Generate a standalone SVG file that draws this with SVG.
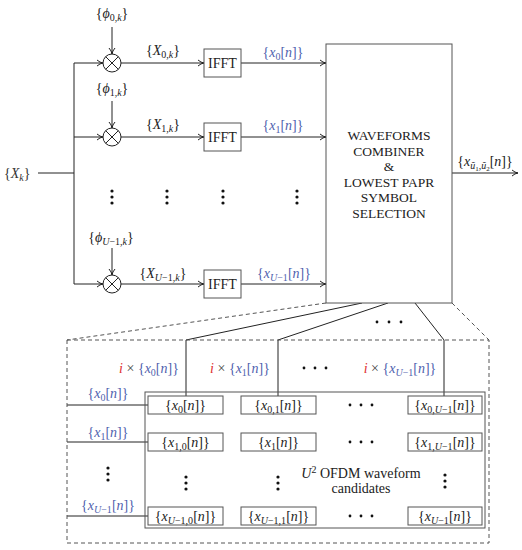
<svg xmlns="http://www.w3.org/2000/svg" width="522" height="550" viewBox="0 0 522 550">
<defs>
<style>
.m{font-family:"Liberation Serif",serif;font-size:14px;fill:#333}
.t{font-family:"Liberation Serif",serif;font-size:14px;fill:#222;text-anchor:middle}
.c{font-size:13.5px}
.it{font-style:italic}
.sb{font-size:10px}
.bl{fill:#4f5fae}
.rd{fill:#e03030}
.ln{stroke:#222;stroke-width:1;fill:none}
.bx{stroke:#555;stroke-width:1;fill:#fff}
.ds{stroke:#555;stroke-width:1;fill:none;stroke-dasharray:4,3}
.dot{fill:#111}
</style>
<marker id="ar" viewBox="0 0 8 8" refX="7" refY="4" markerWidth="8" markerHeight="8" orient="auto" markerUnits="userSpaceOnUse">
<path d="M1,1 Q4,3.6 7,4 Q4,4.4 1,7" fill="none" stroke="#222" stroke-width="1"/>
</marker>
</defs>
<rect width="522" height="550" fill="#fff"/>

<g id="connectors">
<line class="ln" x1="38" y1="173" x2="74" y2="173"/>
<line class="ln" x1="74" y1="63" x2="74" y2="284"/>
<line class="ln" x1="74" y1="63" x2="103" y2="63" marker-end="url(#ar)"/>
<line class="ln" x1="74" y1="137" x2="103" y2="137" marker-end="url(#ar)"/>
<line class="ln" x1="74" y1="284" x2="103" y2="284" marker-end="url(#ar)"/>
<line class="ln" x1="112" y1="27" x2="112" y2="54" marker-end="url(#ar)"/>
<line class="ln" x1="112" y1="101" x2="112" y2="128" marker-end="url(#ar)"/>
<line class="ln" x1="112" y1="248" x2="112" y2="275" marker-end="url(#ar)"/>
<line class="ln" x1="121" y1="63" x2="204" y2="63" marker-end="url(#ar)"/>
<line class="ln" x1="121" y1="137" x2="204" y2="137" marker-end="url(#ar)"/>
<line class="ln" x1="121" y1="284" x2="204" y2="284" marker-end="url(#ar)"/>
<line class="ln" x1="241" y1="63" x2="326" y2="63" marker-end="url(#ar)"/>
<line class="ln" x1="241" y1="137" x2="326" y2="137" marker-end="url(#ar)"/>
<line class="ln" x1="241" y1="284" x2="326" y2="284" marker-end="url(#ar)"/>
<line class="ln" x1="452" y1="173" x2="518" y2="173" marker-end="url(#ar)"/>
<line class="ds" x1="326" y1="303" x2="67" y2="340"/>
<line class="ds" x1="452" y1="303" x2="489" y2="340"/>
<polyline class="ln" points="362,303 186,340 186,396"/>
<polyline class="ln" points="388,303 278,340 278,396"/>
<polyline class="ln" points="415,303 444,340 444,396"/>
<line class="ln" x1="67" y1="405" x2="148" y2="405"/>
<line class="ln" x1="67" y1="442" x2="148" y2="442"/>
<line class="ln" x1="67" y1="516" x2="148" y2="516"/>
</g>

<g id="input-label">
<text class="m" x="4" y="178">{<tspan class="it">X</tspan><tspan class="sb it" dy="3">k</tspan><tspan dy="-3">}</tspan></text>
</g>

<g id="mult0">
<circle class="bx" cx="112" cy="63" r="9" style="stroke:#222"/>
<path class="ln" d="M105.6,56.6 L118.4,69.4 M118.4,56.6 L105.6,69.4"/>
<text class="t" x="112" y="18">{<tspan class="it">ϕ</tspan><tspan class="sb" dy="3">0,<tspan class="it">k</tspan></tspan><tspan dy="-3">}</tspan></text>
</g>
<g id="mult1">
<circle class="bx" cx="112" cy="137" r="9" style="stroke:#222"/>
<path class="ln" d="M105.6,130.6 L118.4,143.4 M118.4,130.6 L105.6,143.4"/>
<text class="t" x="112" y="93">{<tspan class="it">ϕ</tspan><tspan class="sb" dy="3">1,<tspan class="it">k</tspan></tspan><tspan dy="-3">}</tspan></text>
</g>
<g id="multU">
<circle class="bx" cx="112" cy="284" r="9" style="stroke:#222"/>
<path class="ln" d="M105.6,277.6 L118.4,290.4 M118.4,277.6 L105.6,290.4"/>
<text class="t" x="111" y="242">{<tspan class="it">ϕ</tspan><tspan class="sb" dy="3"><tspan class="it">U</tspan>−1,<tspan class="it">k</tspan></tspan><tspan dy="-3">}</tspan></text>
</g>

<g id="labels-X">
<text class="t" x="163" y="55">{<tspan class="it">X</tspan><tspan class="sb" dy="3">0,<tspan class="it">k</tspan></tspan><tspan dy="-3">}</tspan></text>
<text class="t" x="163" y="129">{<tspan class="it">X</tspan><tspan class="sb" dy="3">1,<tspan class="it">k</tspan></tspan><tspan dy="-3">}</tspan></text>
<text class="t" x="163" y="278">{<tspan class="it">X</tspan><tspan class="sb" dy="3"><tspan class="it">U</tspan>−1,<tspan class="it">k</tspan></tspan><tspan dy="-3">}</tspan></text>
</g>

<g id="ifft0"><rect class="bx" x="204" y="49" width="37" height="28"/><text class="t" x="222.5" y="68">IFFT</text></g>
<g id="ifft1"><rect class="bx" x="204" y="123" width="37" height="28"/><text class="t" x="222.5" y="142">IFFT</text></g>
<g id="ifftU"><rect class="bx" x="204" y="270" width="37" height="28"/><text class="t" x="222.5" y="289">IFFT</text></g>

<g id="labels-x">
<text class="t bl" x="283" y="57">{<tspan class="it">x</tspan><tspan class="sb" dy="3">0</tspan><tspan dy="-3">[</tspan><tspan class="it">n</tspan>]}</text>
<text class="t bl" x="283" y="130">{<tspan class="it">x</tspan><tspan class="sb" dy="3">1</tspan><tspan dy="-3">[</tspan><tspan class="it">n</tspan>]}</text>
<text class="t bl" x="284" y="278">{<tspan class="it">x</tspan><tspan class="sb" dy="3"><tspan class="it">U</tspan>−1</tspan><tspan dy="-3">[</tspan><tspan class="it">n</tspan>]}</text>
</g>

<g id="vdots-top">
<circle class="dot" cx="112" cy="191" r="1.6"/><circle class="dot" cx="112" cy="197" r="1.6"/><circle class="dot" cx="112" cy="203" r="1.6"/>
<circle class="dot" cx="167" cy="191" r="1.6"/><circle class="dot" cx="167" cy="197" r="1.6"/><circle class="dot" cx="167" cy="203" r="1.6"/>
<circle class="dot" cx="223" cy="191" r="1.6"/><circle class="dot" cx="223" cy="197" r="1.6"/><circle class="dot" cx="223" cy="203" r="1.6"/>
<circle class="dot" cx="297" cy="191" r="1.6"/><circle class="dot" cx="297" cy="197" r="1.6"/><circle class="dot" cx="297" cy="203" r="1.6"/>
</g>

<g id="combiner">
<rect class="bx" x="326" y="44" width="126" height="259"/>
<text class="t c" x="389" y="140">WAVEFORMS</text>
<text class="t c" x="389" y="156">COMBINER</text>
<text class="t c" x="389" y="171">&amp;</text>
<text class="t c" x="389" y="187">LOWEST PAPR</text>
<text class="t c" x="389" y="202">SYMBOL</text>
<text class="t c" x="389" y="218">SELECTION</text>
</g>

<g id="output-label">
<text class="t" x="485" y="166">{<tspan class="it">x</tspan><tspan class="sb" dy="3"><tspan class="it">ũ</tspan><tspan font-size="7" dy="2">1</tspan><tspan dy="-2">,</tspan><tspan class="it">ũ</tspan><tspan font-size="7" dy="2">2</tspan></tspan><tspan dy="-5">[</tspan><tspan class="it">n</tspan>]}</text>
</g>

<g id="hdots-top">
<circle class="dot" cx="377" cy="322" r="1.4"/><circle class="dot" cx="389" cy="322" r="1.4"/><circle class="dot" cx="401" cy="322" r="1.4"/>
</g>

<g id="detail-box">
<rect class="ds" x="67" y="340" width="422" height="203"/>
</g>

<g id="mult-labels">
<text class="t bl" x="149" y="373"><tspan class="rd it">i</tspan><tspan fill="#444"> × </tspan>{<tspan class="it">x</tspan><tspan class="sb" dy="3">0</tspan><tspan dy="-3">[</tspan><tspan class="it">n</tspan>]}</text>
<text class="t bl" x="240" y="373"><tspan class="rd it">i</tspan><tspan fill="#444"> × </tspan>{<tspan class="it">x</tspan><tspan class="sb" dy="3">1</tspan><tspan dy="-3">[</tspan><tspan class="it">n</tspan>]}</text>
<circle class="dot" cx="304" cy="368" r="1.4"/><circle class="dot" cx="315" cy="368" r="1.4"/><circle class="dot" cx="326" cy="368" r="1.4"/>
<text class="t bl" x="400" y="373"><tspan class="rd it">i</tspan><tspan fill="#444"> × </tspan>{<tspan class="it">x</tspan><tspan class="sb" dy="3"><tspan class="it">U</tspan>−1</tspan><tspan dy="-3">[</tspan><tspan class="it">n</tspan>]}</text>
</g>

<g id="candidates-box">
<rect class="bx" x="145" y="392" width="340" height="136" style="fill:none"/>
<text class="t" x="361" y="478"><tspan class="it">U</tspan><tspan class="sb" dy="-5">2</tspan><tspan dy="5"> OFDM waveform</tspan></text>
<text class="t" x="361" y="493">candidates</text>
</g>

<g id="row-labels">
<text class="t bl" x="108" y="398">{<tspan class="it">x</tspan><tspan class="sb" dy="3">0</tspan><tspan dy="-3">[</tspan><tspan class="it">n</tspan>]}</text>
<text class="t bl" x="108" y="437">{<tspan class="it">x</tspan><tspan class="sb" dy="3">1</tspan><tspan dy="-3">[</tspan><tspan class="it">n</tspan>]}</text>
<text class="t bl" x="108" y="510">{<tspan class="it">x</tspan><tspan class="sb" dy="3"><tspan class="it">U</tspan>−1</tspan><tspan dy="-3">[</tspan><tspan class="it">n</tspan>]}</text>
<circle class="dot" cx="108" cy="468" r="1.6"/><circle class="dot" cx="108" cy="474" r="1.6"/><circle class="dot" cx="108" cy="480" r="1.6"/>
</g>

<g id="cell-0-0"><rect class="bx" x="148" y="396" width="75" height="18"/><text class="t" x="185.5" y="409.5">{<tspan class="it">x</tspan><tspan class="sb" dy="3">0</tspan><tspan dy="-3">[</tspan><tspan class="it">n</tspan>]}</text></g>
<g id="cell-0-1"><rect class="bx" x="241" y="396" width="75" height="18"/><text class="t" x="278.5" y="409.5">{<tspan class="it">x</tspan><tspan class="sb" dy="3">0,1</tspan><tspan dy="-3">[</tspan><tspan class="it">n</tspan>]}</text></g>
<g id="cell-0-U"><rect class="bx" x="408" y="396" width="74" height="18"/><text class="t" x="445" y="409.5">{<tspan class="it">x</tspan><tspan class="sb" dy="3">0,<tspan class="it">U</tspan>−1</tspan><tspan dy="-3">[</tspan><tspan class="it">n</tspan>]}</text></g>

<g id="cell-1-0"><rect class="bx" x="148" y="433" width="75" height="18"/><text class="t" x="185.5" y="446.5">{<tspan class="it">x</tspan><tspan class="sb" dy="3">1,0</tspan><tspan dy="-3">[</tspan><tspan class="it">n</tspan>]}</text></g>
<g id="cell-1-1"><rect class="bx" x="241" y="433" width="75" height="18"/><text class="t" x="278.5" y="446.5">{<tspan class="it">x</tspan><tspan class="sb" dy="3">1</tspan><tspan dy="-3">[</tspan><tspan class="it">n</tspan>]}</text></g>
<g id="cell-1-U"><rect class="bx" x="408" y="433" width="74" height="18"/><text class="t" x="445" y="446.5">{<tspan class="it">x</tspan><tspan class="sb" dy="3">1,<tspan class="it">U</tspan>−1</tspan><tspan dy="-3">[</tspan><tspan class="it">n</tspan>]}</text></g>

<g id="cell-U-0"><rect class="bx" x="148" y="507" width="75" height="18"/><text class="t" x="185.5" y="520.5">{<tspan class="it">x</tspan><tspan class="sb" dy="3"><tspan class="it">U</tspan>−1,0</tspan><tspan dy="-3">[</tspan><tspan class="it">n</tspan>]}</text></g>
<g id="cell-U-1"><rect class="bx" x="241" y="507" width="75" height="18"/><text class="t" x="278.5" y="520.5">{<tspan class="it">x</tspan><tspan class="sb" dy="3"><tspan class="it">U</tspan>−1,1</tspan><tspan dy="-3">[</tspan><tspan class="it">n</tspan>]}</text></g>
<g id="cell-U-U"><rect class="bx" x="408" y="507" width="74" height="18"/><text class="t" x="445" y="520.5">{<tspan class="it">x</tspan><tspan class="sb" dy="3"><tspan class="it">U</tspan>−1</tspan><tspan dy="-3">[</tspan><tspan class="it">n</tspan>]}</text></g>

<g id="grid-dots">
<circle class="dot" cx="350" cy="405" r="1.4"/><circle class="dot" cx="361" cy="405" r="1.4"/><circle class="dot" cx="372" cy="405" r="1.4"/>
<circle class="dot" cx="350" cy="442" r="1.4"/><circle class="dot" cx="361" cy="442" r="1.4"/><circle class="dot" cx="372" cy="442" r="1.4"/>
<circle class="dot" cx="350" cy="516" r="1.4"/><circle class="dot" cx="361" cy="516" r="1.4"/><circle class="dot" cx="372" cy="516" r="1.4"/>
<circle class="dot" cx="186" cy="477" r="1.6"/><circle class="dot" cx="186" cy="483" r="1.6"/><circle class="dot" cx="186" cy="489" r="1.6"/>
<circle class="dot" cx="278" cy="477" r="1.6"/><circle class="dot" cx="278" cy="483" r="1.6"/><circle class="dot" cx="278" cy="489" r="1.6"/>
<circle class="dot" cx="445" cy="475" r="1.6"/><circle class="dot" cx="445" cy="481" r="1.6"/><circle class="dot" cx="445" cy="487" r="1.6"/>
</g>
</svg>
